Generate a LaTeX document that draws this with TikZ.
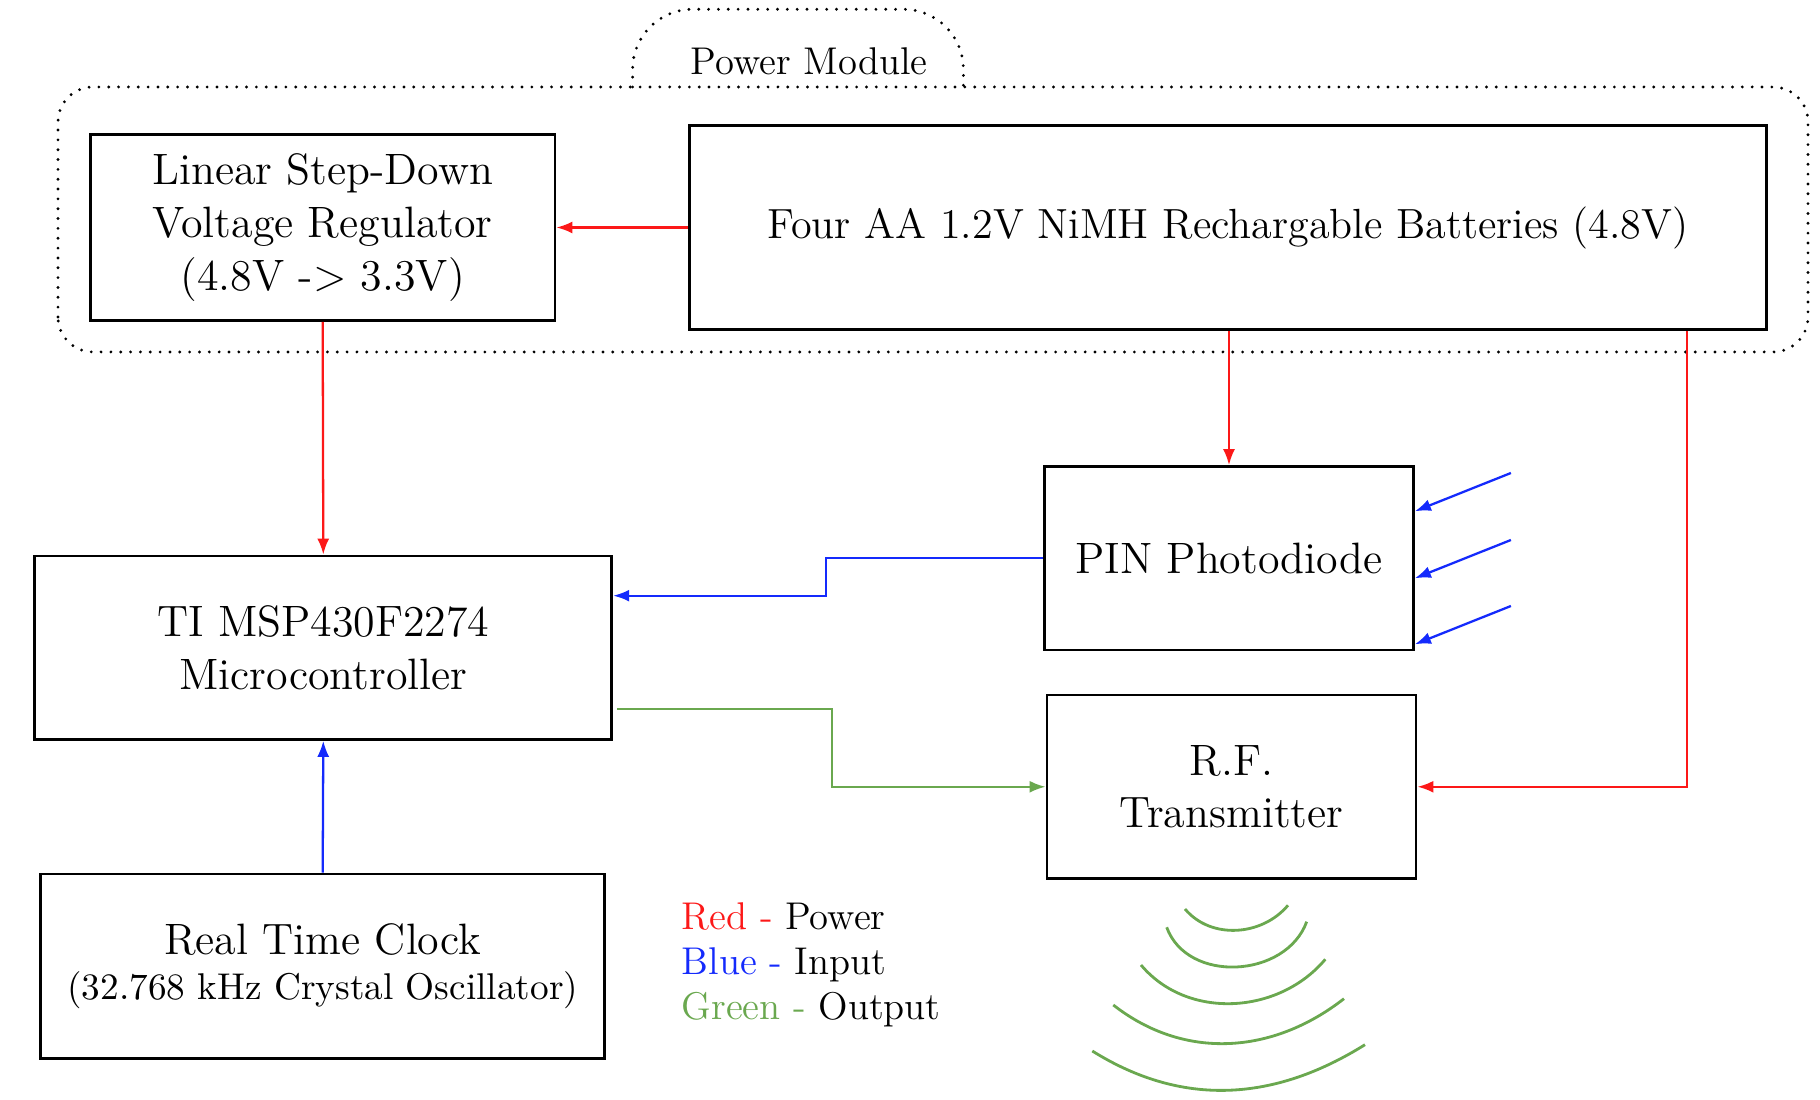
\documentclass[tikz,border=0pt]{standalone}
\usepackage{fontspec}
\usetikzlibrary{arrows.meta}
\definecolor{pwrred}{RGB}{252,24,24}
\definecolor{inblue}{RGB}{20,42,252}
\definecolor{outgreen}{RGB}{106,168,79}
\begin{document}
\begin{tikzpicture}[
  blk/.style={draw, line width=0.8pt, inner sep=0pt, align=center, font=\fontsize{12.5}{15}\selectfont},
  pwr/.style={draw=pwrred, line width=0.65pt, -{Latex[length=1.6mm,width=1.2mm]}},
  inp/.style={draw=inblue, line width=0.65pt, -{Latex[length=1.6mm,width=1.2mm]}},
  outp/.style={draw=outgreen, line width=0.65pt, -{Latex[length=1.6mm,width=1.2mm]}},
  wave/.style={draw=outgreen, line width=0.8pt},
  dots/.style={line width=0.9pt, line cap=round, dash pattern=on 0pt off 2.8pt}
]
\useasboundingbox (0,0) rectangle (18.2,11);
\draw[dots, rounded corners=0.35cm] (0.58,7.48) rectangle (18.08,10.13);
\draw[dots, rounded corners=0.6cm] (6.326,10.13) -- (6.326,10.907) -- (9.634,10.907) -- (9.634,10.13);
\node[font=\fontsize{11}{13}\selectfont] (pmlabel) at (8.09,10.385) {Power Module};
\node[blk, minimum width=4.645cm, minimum height=1.858cm] (reg) at (3.227,8.725) {Linear Step-Down\\Voltage Regulator\\(4.8V -> 3.3V)};
\node[blk, minimum width=10.77cm, minimum height=2.04cm, font=\fontsize{12}{15}\selectfont] (bat) at (12.28,8.725) {Four AA 1.2V NiMH Rechargable Batteries (4.8V)};
\node[blk, minimum width=3.69cm, minimum height=1.834cm] (pin) at (12.29,5.417) {PIN Photodiode};
\node[blk, minimum width=5.77cm, minimum height=1.834cm] (mcu) at (3.233,4.523) {TI MSP430F2274\\Microcontroller};
\node[blk, minimum width=3.69cm, minimum height=1.836cm] (rf) at (12.315,3.132) {R.F.\\Transmitter};
\node[blk, minimum width=5.64cm, minimum height=1.846cm] (rtc) at (3.227,1.337) {Real Time Clock\\[-2pt]{\fontsize{10.6}{13}\selectfont (32.768 kHz Crystal Oscillator)}};
\draw[pwr] (bat) -- (reg);
\draw[pwr] (reg.south) -- (mcu.north);
\draw[pwr] (pin.north |- bat.south) -- (pin.north);
\draw[pwr] ([xshift=-0.81cm]bat.south east) |- (rf.east);
\draw[inp] (pin.west) -- ++(-2.17,0) |- ([yshift=0.52cm]mcu.east);
\draw[outp] ([xshift=0.04cm,yshift=-0.61cm]mcu.east) -- ++(2.15,0) |- (rf.west);
\draw[inp] (rtc.north) -- (mcu.south);
\foreach \i/\dy in {1/0.47,2/-0.20,3/-0.86}{
  \coordinate (ray\i) at ([xshift=0.96cm,yshift=\dy cm+0.383cm]pin.east);
  \draw[inp] (ray\i) -- ([yshift=\dy cm]pin.east);
}
\foreach \xl/\yl/\xr/\yr/\a/\lo in {11.85/1.91/12.88/1.947/50/1,11.667/1.727/13.067/1.783/70/1.1,11.41/1.35/13.253/1.407/50/1,11.133/0.95/13.44/1.013/38/1,10.923/0.49/13.65/0.553/32/1}
  \draw[wave] (\xl,\yl) to[out=-\a, in=180+\a, looseness=\lo] (\xr,\yr);
\node[anchor=west, align=left, inner sep=0pt, font=\fontsize{11}{12.8}\selectfont] (legend) at (6.81,1.355) {\textcolor{pwrred}{Red -} Power\\\textcolor{inblue}{Blue -} Input\\\textcolor{outgreen}{Green -} Output};
\end{tikzpicture}
\end{document}
